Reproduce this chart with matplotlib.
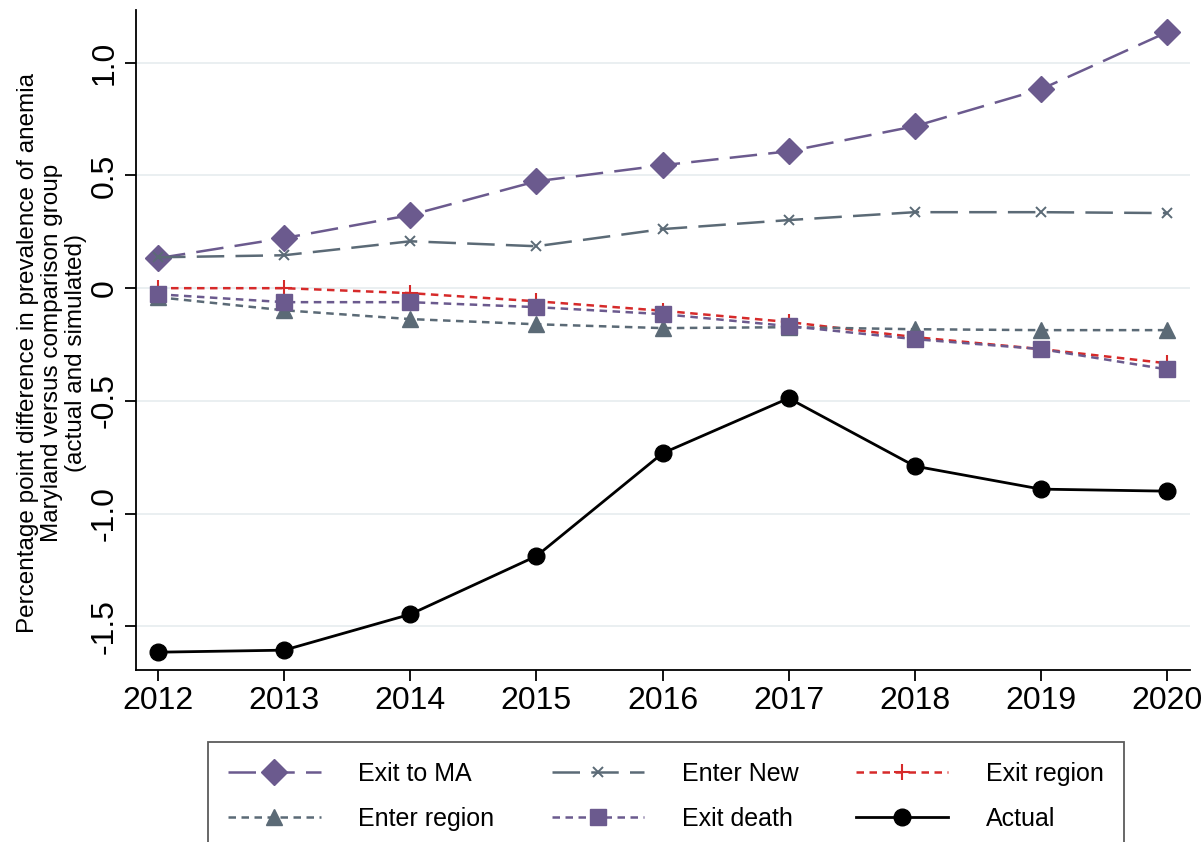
import numpy as np
import matplotlib
matplotlib.use('Agg')
import matplotlib.pyplot as plt
from matplotlib.ticker import FuncFormatter

plt.rcParams['font.family'] = ['Liberation Sans', 'DejaVu Sans']

years = [2012, 2013, 2014, 2015, 2016, 2017, 2018, 2019, 2020]
exit_to_ma = [0.133, 0.222, 0.324, 0.474, 0.545, 0.607, 0.718, 0.882, 1.135]
enter_new = [0.137, 0.146, 0.208, 0.186, 0.262, 0.302, 0.337, 0.337, 0.333]
exit_region = [0.0, 0.0, -0.022, -0.058, -0.10, -0.15, -0.217, -0.27, -0.333]
enter_region = [-0.04, -0.098, -0.137, -0.16, -0.177, -0.173, -0.182, -0.186, -0.186]
exit_death = [-0.027, -0.062, -0.062, -0.084, -0.115, -0.168, -0.226, -0.27, -0.36]
actual = [-1.614, -1.605, -1.446, -1.188, -0.732, -0.488, -0.789, -0.891, -0.90]
yticks = [-1.5, -1.0, -0.5, 0, 0.5, 1.0]

purple = '#6b5a8e'
slate = '#5b6a76'
red = '#d62a2a'

fig = plt.figure(figsize=(12.03, 8.42), dpi=100)
ax = fig.add_axes([0.113, 0.204, 0.876, 0.784])

long_dash = (0, (11, 4.5))
short_dash = (0, (3, 2.2))
lw = 1.8

h1, = ax.plot(years, exit_to_ma, color=purple, linestyle=long_dash, lw=lw,
              marker='D', markersize=13, label='Exit to MA')
h2, = ax.plot(years, enter_new, color=slate, linestyle=long_dash, lw=lw,
              marker='x', markersize=7, markeredgewidth=1.4, label='Enter New')
h3, = ax.plot(years, exit_region, color=red, linestyle=short_dash, lw=lw,
              marker='+', markersize=11, markeredgewidth=1.5, label='Exit region')
h4, = ax.plot(years, enter_region, color=slate, linestyle=short_dash, lw=lw,
              marker='^', markersize=12, label='Enter region')
h5, = ax.plot(years, exit_death, color=purple, linestyle=short_dash, lw=lw,
              marker='s', markersize=12, label='Exit death')
h6, = ax.plot(years, actual, color='black', linestyle='-', lw=2.0,
              marker='o', markersize=12, label='Actual')

ax.set_xlim(2011.825, 2020.18)
ax.set_ylim(-1.694, 1.233)
ax.set_xticks(years)
ax.set_yticks(yticks)
ax.yaxis.set_major_formatter(FuncFormatter(lambda v, p: '0' if v == 0 else '%.1f' % v))
ax.grid(axis='y', color='#e6ecef', lw=1.2)
ax.set_axisbelow(True)
for s in ['top', 'right']:
    ax.spines[s].set_visible(False)
ax.spines['left'].set_linewidth(1.3)
ax.spines['bottom'].set_linewidth(1.3)
ax.tick_params(axis='both', labelsize=23, length=8, width=1.3)
for lab in ax.get_yticklabels():
    lab.set_rotation(90)
    lab.set_va('center')

ax.set_ylabel('Percentage point difference in prevalence of anemia\n'
              'Maryland versus comparison group\n(actual and simulated)',
              fontsize=17.5, linespacing=1.12, labelpad=2)
ax.yaxis.label.set_y(0.48)

handles = [h1, h4, h2, h5, h3, h6]
leg = fig.legend(handles=handles, ncol=3, loc='upper left',
                 bbox_to_anchor=(0.173, 0.119), borderaxespad=0,
                 fontsize=18, frameon=True,
                 fancybox=False, edgecolor='#333333', handlelength=3.7,
                 columnspacing=2.3, labelspacing=0.85, borderpad=0.8,
                 handletextpad=1.5)
leg.get_frame().set_linewidth(1.3)

fig.savefig('out.png', dpi=100)
